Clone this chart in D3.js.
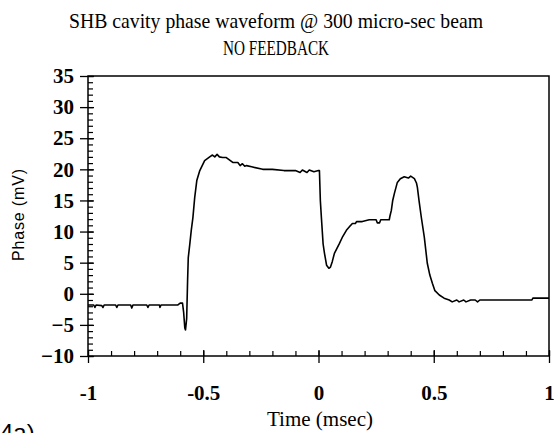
<!DOCTYPE html>
<html><head><meta charset="utf-8">
<script src="https://cdn.jsdelivr.net/npm/d3@7/dist/d3.min.js"></script>
<style>body{margin:0;background:#fff;}svg{display:block;}</style>
</head><body><svg id="c" width="554" height="433"></svg>
<script>
const titleLines = ["SHB cavity phase waveform @ 300 micro-sec beam", "NO FEEDBACK"];
const xLabel = "Time (msec)";
const yLabel = "Phase (mV)";
const xTicks = [-1, -0.5, 0, 0.5, 1];
const xTickLabels = ["-1", "-0.5", "0", "0.5", "1"];
const yTicks = [-10, -5, 0, 5, 10, 15, 20, 25, 30, 35];
const timeMs = [-1.0,-0.975,-0.97,-0.965,-0.94,-0.935,-0.93,-0.88,-0.875,-0.87,-0.815,-0.81,-0.805,-0.745,-0.74,-0.735,-0.69,-0.688,-0.683,-0.61,-0.6,-0.59,-0.585,-0.58,-0.577,-0.572,-0.568,-0.565,-0.558,-0.552,-0.545,-0.537,-0.528,-0.515,-0.494,-0.472,-0.46,-0.45,-0.44,-0.43,-0.416,-0.40,-0.372,-0.35,-0.34,-0.33,-0.32,-0.312,-0.29,-0.242,-0.2,-0.15,-0.1,-0.08,-0.07,-0.05,-0.04,-0.02,0.0,0.004,0.008,0.013,0.02,0.026,0.035,0.045,0.052,0.06,0.069,0.08,0.091,0.105,0.121,0.135,0.147,0.16,0.165,0.19,0.22,0.25,0.255,0.265,0.27,0.307,0.31,0.316,0.322,0.329,0.342,0.355,0.372,0.39,0.40,0.416,0.425,0.429,0.436,0.446,0.459,0.472,0.483,0.494,0.505,0.524,0.545,0.567,0.58,0.6,0.61,0.63,0.64,0.66,0.68,0.69,0.7,0.926,0.93,0.996,1.0];
const phaseMv = [-1.8,-1.8,-2.2,-1.8,-1.9,-2.2,-1.8,-1.8,-2.2,-1.8,-1.8,-2.3,-1.8,-1.8,-2.2,-1.8,-1.8,-2.2,-1.8,-1.8,-1.5,-1.5,-3,-5.5,-5.8,-4.0,2,5.8,8.1,10.2,12.2,15.5,18.2,19.8,21.4,22.0,22.3,22.0,22.4,22.0,21.9,21.9,21.1,21.1,20.6,20.9,20.5,20.6,20.4,20.0,20.0,19.8,19.8,19.5,19.9,19.5,19.9,19.6,19.8,19.8,15,12,8,6.5,4.6,4.1,4.3,5.2,6.5,7.3,8.1,9.2,10.2,10.8,11.3,11.3,11.6,11.6,11.9,11.9,11.4,11.4,11.9,11.9,12.5,13.4,15,16.1,17.9,18.5,18.8,18.6,18.9,18.5,17.8,17.1,15,12.3,9.1,4.9,3.0,1.7,0.5,-0.2,-0.7,-1.0,-1.3,-1.0,-1.3,-1.0,-1.3,-1.0,-1.0,-1.3,-1.0,-1.0,-0.7,-0.7,-0.7];

const svg = d3.select("#c");
const L = 88, R = 549, T = 76, B = 356;
const x = d3.scaleLinear().domain([-1, 1]).range([L, R]);
const y = d3.scaleLinear().domain([-10, 35]).range([B, T]);
const serif = "'Liberation Serif', 'DejaVu Serif', serif";

// title (condensed look)
const titleWidths = [414, 106];
svg.selectAll("text.title").data(titleLines).enter().append("text")
  .attr("class","title").attr("x", 276).attr("y", (d,i)=>28 + i*27)
  .attr("text-anchor","middle").attr("font-family", serif).attr("font-size", 22)
  .attr("textLength", (d,i)=>titleWidths[i]).attr("lengthAdjust","spacingAndGlyphs")
  .text(d=>d);

// frame
svg.append("rect").attr("x", L).attr("y", T).attr("width", R-L).attr("height", B-T)
  .attr("fill","none").attr("stroke","#000").attr("stroke-width",1.5);

// y axis minor ticks (inside)
const yMinor = d3.range(-10, 36, 1);
const yAx = d3.axisLeft(y).tickValues(yMinor).tickSize(-5).tickFormat("");
const gYm = svg.append("g").attr("transform",`translate(${L},0)`).call(yAx);
gYm.select(".domain").remove();
gYm.selectAll("line").attr("stroke","#000").attr("stroke-width",1.2);
// y major ticks crossing
const yMaj = d3.axisLeft(y).tickValues(yTicks).tickSize(7).tickPadding(6).tickFormat(d3.format("d"));
const gY = svg.append("g").attr("transform",`translate(${L},0)`).call(yMaj);
gY.select(".domain").remove();
gY.selectAll("line").attr("stroke","#000").attr("stroke-width",1.3).attr("x2",-8).attr("x1",6);
gY.selectAll("text").attr("font-family", serif).attr("font-size", 21).attr("fill","#000")
  .attr("font-weight","bold").attr("x",-14);

// x axis minor ticks
const xMinor = d3.range(-10, 11, 1).map(d=>d/10);
const xAx = d3.axisBottom(x).tickValues(xMinor).tickSize(-5).tickFormat("");
const gXm = svg.append("g").attr("transform",`translate(0,${B})`).call(xAx);
gXm.select(".domain").remove();
gXm.selectAll("line").attr("stroke","#000").attr("stroke-width",1.2);
const xMaj = d3.axisBottom(x).tickValues(xTicks).tickSize(7).tickPadding(22)
  .tickFormat((d,i)=>xTickLabels[i]);
const gX = svg.append("g").attr("transform",`translate(0,${B})`).call(xMaj);
gX.select(".domain").remove();
gX.selectAll("line").attr("stroke","#000").attr("stroke-width",1.3).attr("y1",-6).attr("y2",7);
gX.selectAll("text").attr("font-family", serif).attr("font-size", 21).attr("fill","#000")
  .attr("font-weight","bold");

// axis labels
svg.append("text").attr("x", 320).attr("y", 426).attr("text-anchor","middle")
  .attr("font-family", serif).attr("font-size", 20)
  .attr("textLength", 106).attr("lengthAdjust","spacingAndGlyphs").text(xLabel);
svg.append("text").attr("transform","translate(24,215) rotate(-90)").attr("text-anchor","middle")
  .attr("font-family","'Liberation Sans', Arial, sans-serif").attr("font-size", 16)
  .attr("textLength", 92).attr("lengthAdjust","spacing").text(yLabel);

// figure tag (cut off at bottom-left, as in the reference)
svg.append("text").attr("x", -8).attr("y", 441).attr("font-family","'Liberation Sans', Arial, sans-serif")
  .attr("font-size", 24).text("(4a)");

// trace
const data = timeMs.map((t,i)=>[t, phaseMv[i]]);
svg.append("path").datum(data)
  .attr("d", d3.line().x(d=>x(d[0])).y(d=>y(d[1])))
  .attr("fill","none").attr("stroke","#000").attr("stroke-width",1.6).attr("stroke-linejoin","round");
</script></body></html>
